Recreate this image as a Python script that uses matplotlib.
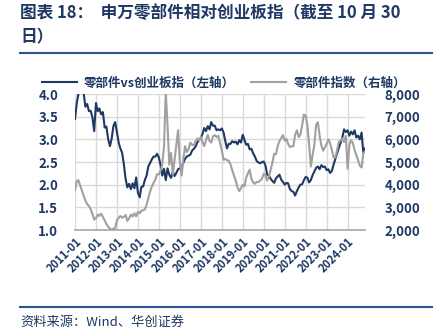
import numpy as np
import pandas as pd
import matplotlib
matplotlib.use('Agg')
from matplotlib import pyplot as plt
import matplotlib.dates as mdates
from matplotlib.lines import Line2D

plt.rcParams['font.family'] = ['Noto Sans CJK SC', 'DejaVu Sans']

NAVY = '#1F3864'
GRAY = '#A0A0A0'
RULE = '#2E5597'

# monthly points from 2011-01 to 2024-10, plus the last day (2024-10-30)
dates = list(pd.date_range('2011-01-01', '2024-10-01', freq='MS')) + [pd.Timestamp('2024-10-30')]

# 零部件vs创业板指 (left axis)
rel_ratio = [
    3.45, 3.80, 4.00, 4.05, 4.05, 4.02, 3.72, 3.78, 3.62, 3.63, 3.48, 3.18,
    3.80, 3.62, 3.68, 3.55, 3.60, 3.26, 3.28, 3.00, 2.85, 3.02, 3.30, 3.38,
    3.15, 2.92, 2.80, 2.70, 2.45, 2.12, 1.94, 2.02, 1.90, 2.03, 1.92, 2.16,
    1.82, 1.72, 1.95, 1.96, 2.10, 2.20, 2.40, 2.48, 2.56, 2.62, 2.62, 2.68,
    2.60, 2.42, 2.20, 2.35, 2.10, 2.36, 2.22, 2.15, 2.28, 2.19, 2.26, 2.34,
    2.36, 2.38, 2.48, 2.57, 2.62, 2.64, 2.66, 2.75, 2.79, 2.84, 2.93, 2.99,
    3.02, 3.13, 3.25, 3.18, 3.29, 3.22, 3.38, 3.30, 3.30, 3.20, 3.22, 3.20,
    3.24, 3.15, 2.97, 2.80, 2.90, 2.90, 2.96, 2.93, 2.95, 2.89, 2.98, 2.93,
    3.10, 2.98, 2.88, 2.90, 2.78, 2.79, 2.69, 2.62, 2.52, 2.49, 2.47, 2.50,
    2.51, 2.42, 2.22, 2.20, 2.13, 2.08, 2.04, 2.14, 2.18, 2.22, 2.11, 2.06,
    2.00, 2.04, 2.03, 1.90, 1.86, 1.84, 1.76, 1.86, 1.94, 2.00, 2.01, 2.10,
    2.17, 2.15, 2.05, 2.10, 2.21, 2.29, 2.37, 2.40, 2.34, 2.43, 2.39, 2.40,
    2.32, 2.34, 2.26, 2.30, 2.44, 2.57, 2.69, 2.81, 2.93, 3.04, 3.22, 3.16,
    3.20, 3.08, 3.17, 3.11, 3.20, 3.04, 3.08, 3.00, 3.15, 2.70, 2.80,
]

# 零部件指数 (right axis)
parts_index = [
    3760, 4160, 4200, 3960, 3740, 3520, 3300, 3140, 3060, 2920, 2700, 2460,
    2520, 2680, 2620, 2720, 2580, 2420, 2260, 2140, 2060, 2020, 2060, 2080,
    2440, 2540, 2620, 2540, 2580, 2660, 2400, 2520, 2680, 2600, 2740, 2600,
    2800, 2740, 2840, 2880, 2900, 3120, 3400, 3700, 3920, 4080, 4240, 4460,
    4460, 4620, 4900, 5700, 8100, 6600, 4880, 5400, 4440, 5080, 5700, 6400,
    5000, 4400, 5100, 5700, 5440, 5560, 5860, 5760, 5740, 5920, 6040, 5940,
    6120, 5860, 5700, 5960, 6200, 5920, 5860, 6140, 6180, 6100, 6160, 5840,
    5500, 5100, 5140, 5080, 5060, 4900, 4640, 4400, 4180, 3880, 3720, 3840,
    4000, 3940, 4300, 4500, 4660, 4260, 4100, 4040, 4120, 4120, 4180, 4260,
    4480, 4420, 4180, 4360, 4660, 4980, 5360, 5340, 5700, 5920, 6060, 6180,
    5940, 6020, 5800, 5660, 5700, 5700, 6200, 6400, 6100, 6200, 6640, 7100,
    7040, 6600, 5800, 4800, 5300, 5760, 6640, 6760, 6160, 5720, 5500, 5640,
    5800, 6000, 5840, 5540, 5200, 5200, 5520, 5900, 5940, 6040, 5880, 6160,
    4700, 5740, 5960, 5840, 5540, 5300, 5080, 4840, 4760, 5400, 5460,
]

left_ticks = [1.0, 1.5, 2.0, 2.5, 3.0, 3.5, 4.0]
right_ticks = [2000, 3000, 4000, 5000, 6000, 7000, 8000]
tick_years = list(range(2011, 2025))

title_l1 = '图表 18：  申万零部件相对创业板指（截至 10 月 30'
title_l2 = '日）'
labels = ['零部件vs创业板指（左轴）', '零部件指数（右轴）']
source = '资料来源：Wind、华创证券'

fig = plt.figure(figsize=(4.39, 3.35), dpi=100)
ax = fig.add_axes([75 / 439, 1 - 230 / 335, 290 / 439, 136 / 335])
ax2 = ax.twinx()

ax.plot(dates, rel_ratio, color=NAVY, lw=1.5)
ax2.plot(dates, parts_index, color=GRAY, lw=1.5)

ax.set_ylim(1.0, 4.0)
ax2.set_ylim(2000, 8000)
ax.set_xlim(dates[0], dates[-1])
ax.set_yticks(left_ticks)
ax.set_yticklabels(['%.1f' % v for v in left_ticks])
ax2.set_yticks(right_ticks)
ax2.set_yticklabels(['{:,}'.format(v) for v in right_ticks])
ax.set_xticks([pd.Timestamp('%d-01-01' % y) for y in tick_years])
ax.xaxis.set_major_formatter(mdates.DateFormatter('%Y-%m'))

ax.grid(True, color='#D9D9D9', lw=1.0)
ax.set_axisbelow(True)
for a in (ax, ax2):
    for s in ('top', 'right', 'left', 'bottom'):
        a.spines[s].set_visible(False)
    a.tick_params(length=0, colors=NAVY)
ax.spines['bottom'].set_visible(True)
ax.spines['bottom'].set_color('#A6A6A6')
ax.spines['bottom'].set_linewidth(1.2)

for t in ax.get_yticklabels():
    t.set_fontweight('bold'); t.set_fontsize(9.5)
for t in ax2.get_yticklabels():
    t.set_fontweight('bold'); t.set_fontsize(9.5)
for t in ax.get_xticklabels():
    t.set_fontweight('bold'); t.set_fontsize(8)
    t.set_rotation(45); t.set_ha('right'); t.set_rotation_mode('anchor')
ax.tick_params(axis='y', pad=12)
ax2.tick_params(axis='y', pad=14)
ax.tick_params(axis='x', pad=4)

handles = [Line2D([], [], color=NAVY, lw=1.5), Line2D([], [], color=GRAY, lw=1.5)]
leg = fig.legend(handles, labels, loc='center', bbox_to_anchor=(224 / 439, 1 - 83 / 335),
                 ncol=2, frameon=False, handlelength=2.8, handletextpad=0.6,
                 columnspacing=1.3, prop={'weight': 'bold', 'size': 9.0})
for t in leg.get_texts():
    t.set_color(NAVY)

fig.text(20 / 439, 1 - 13 / 335, title_l1, color=NAVY, fontsize=12, fontweight='bold', va='center')
fig.text(20 / 439, 1 - 37 / 335, title_l2, color=NAVY, fontsize=12, fontweight='bold', va='center')
fig.add_artist(Line2D([20 / 439, 432 / 439], [1 - 52.5 / 335] * 2, color=RULE, lw=1.5))
fig.add_artist(Line2D([20 / 439, 432 / 439], [1 - 306.5 / 335] * 2, color=RULE, lw=1.5))
fig.text(20 / 439, 1 - 322 / 335, source, color=NAVY, fontsize=9.5, va='center', style='italic')

fig.savefig('out.png', dpi=100)
